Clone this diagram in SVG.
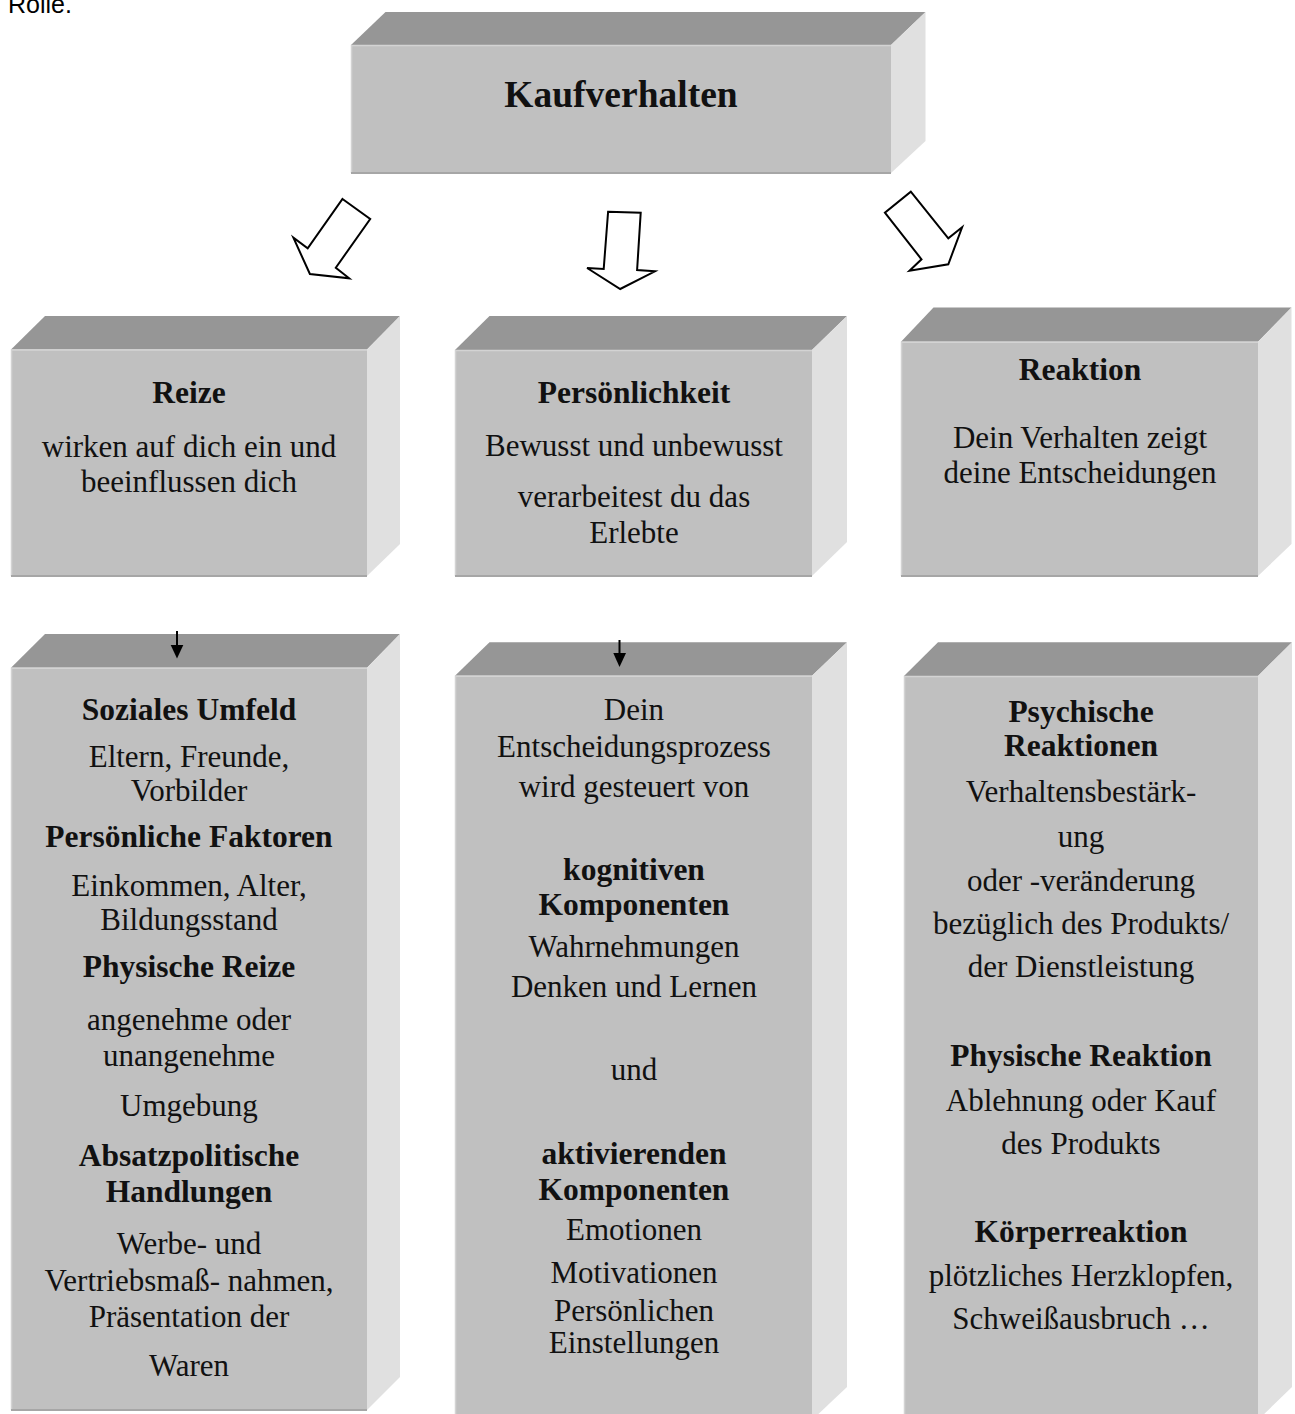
<svg xmlns="http://www.w3.org/2000/svg" width="1295" height="1414" viewBox="0 0 1295 1414">
<style>
  .top{fill:#969696}
  .front{fill:#c0c0c0}
  .side{fill:#e0e0e0}
  .hl{stroke:#d3d3d3;stroke-width:1.5;fill:none}
  .sh{stroke:#a6a6a6;stroke-width:2;fill:none}
  text{font-family:"Liberation Serif","Times New Roman",serif;fill:#111;text-anchor:middle}
  .t{font-size:31px}
  .b{font-size:31.5px;font-weight:bold}
  .h{font-size:37.5px;font-weight:bold}
  .open{fill:#fff;stroke:#000;stroke-width:2;stroke-linejoin:miter}
  .small{stroke:#000;stroke-width:2}
</style>
<rect width="1295" height="1414" fill="#fff"/>
<text x="8" y="13" style="font-family:'Liberation Sans',Arial,sans-serif;font-size:25px;text-anchor:start;fill:#000">Rolle.</text>

<g id="kaufverhalten">
  <polygon class="top" points="351,45 385.5,12 925.5,12 891,45"/>
  <polygon class="side" points="891,45 925.5,12 925.5,141 891,173"/>
  <rect class="front" x="351" y="45" width="540" height="128"/>
  <polyline class="hl" points="351.5,173 351.5,45.5 891,45.5"/>
  <line class="sh" x1="351" y1="173" x2="891" y2="173"/>
  <text class="h" x="621" y="107">Kaufverhalten</text>
</g>

<g id="reize">
  <polygon class="top" points="11,349.5 45,316 400,316 367,349.5"/>
  <polygon class="side" points="367,349.5 400,316 400,544 367,576"/>
  <rect class="front" x="11" y="349.5" width="356" height="226.5"/>
  <polyline class="hl" points="11.5,576 11.5,350 367,350"/>
  <line class="sh" x1="11" y1="576" x2="367" y2="576"/>
  <text class="b" x="189" y="403">Reize</text>
  <text class="t" x="189" y="457">wirken auf dich ein und</text>
  <text class="t" x="189" y="492">beeinflussen dich</text>
</g>

<g id="persoenlichkeit">
  <polygon class="top" points="455,350 489.5,316 847,316 812,350"/>
  <polygon class="side" points="812,350 847,316 847,542 812,576"/>
  <rect class="front" x="455" y="350" width="357" height="226"/>
  <polyline class="hl" points="455.5,576 455.5,350.5 812,350.5"/>
  <line class="sh" x1="455" y1="576" x2="812" y2="576"/>
  <text class="b" x="634" y="403">Persönlichkeit</text>
  <text class="t" x="634" y="456">Bewusst und unbewusst</text>
  <text class="t" x="634" y="507">verarbeitest du das</text>
  <text class="t" x="634" y="543">Erlebte</text>
</g>

<g id="reaktion">
  <polygon class="top" points="901,341.7 933.5,307.5 1291.5,307.5 1258,341.7"/>
  <polygon class="side" points="1258,341.7 1291.5,307.5 1291.5,544 1258,576"/>
  <rect class="front" x="901" y="341.7" width="357" height="234.3"/>
  <polyline class="hl" points="901.5,576 901.5,342.2 1258,342.2"/>
  <line class="sh" x1="901" y1="576" x2="1258" y2="576"/>
  <text class="b" x="1080" y="380">Reaktion</text>
  <text class="t" x="1080" y="448">Dein Verhalten zeigt</text>
  <text class="t" x="1080" y="483">deine Entscheidungen</text>
</g>

<g id="reize-details">
  <polygon class="top" points="11,667.7 45,634 400,634 367,667.7"/>
  <polygon class="side" points="367,667.7 400,634 400,1377 367,1410"/>
  <rect class="front" x="11" y="667.7" width="356" height="742.3"/>
  <polyline class="hl" points="11.5,1410 11.5,668.2 367,668.2"/>
  <line class="sh" x1="11" y1="1410" x2="367" y2="1410"/>
  <text class="b" x="189" y="720">Soziales Umfeld</text>
  <text class="t" x="189" y="767">Eltern, Freunde,</text>
  <text class="t" x="189" y="801">Vorbilder</text>
  <text class="b" x="189" y="847">Persönliche Faktoren</text>
  <text class="t" x="189" y="896">Einkommen, Alter,</text>
  <text class="t" x="189" y="930">Bildungsstand</text>
  <text class="b" x="189" y="977">Physische Reize</text>
  <text class="t" x="189" y="1030">angenehme oder</text>
  <text class="t" x="189" y="1066">unangenehme</text>
  <text class="t" x="189" y="1116">Umgebung</text>
  <text class="b" x="189" y="1166">Absatzpolitische</text>
  <text class="b" x="189" y="1202">Handlungen</text>
  <text class="t" x="189" y="1254">Werbe- und</text>
  <text class="t" x="189" y="1291">Vertriebsmaß- nahmen,</text>
  <text class="t" x="189" y="1327">Präsentation der</text>
  <text class="t" x="189" y="1376">Waren</text>
</g>

<g id="entscheidungsprozess">
  <polygon class="top" points="455,675.7 489.5,642.3 847,642.3 812,675.7"/>
  <polygon class="side" points="812,675.7 847,642.3 847,1387 812,1420"/>
  <rect class="front" x="455" y="675.7" width="357" height="744.3"/>
  <polyline class="hl" points="455.5,1420 455.5,676.2 812,676.2"/>
  <text class="t" x="634" y="720">Dein</text>
  <text class="t" x="634" y="757">Entscheidungsprozess</text>
  <text class="t" x="634" y="797">wird gesteuert von</text>
  <text class="b" x="634" y="880">kognitiven</text>
  <text class="b" x="634" y="915">Komponenten</text>
  <text class="t" x="634" y="957">Wahrnehmungen</text>
  <text class="t" x="634" y="997">Denken und Lernen</text>
  <text class="t" x="634" y="1080">und</text>
  <text class="b" x="634" y="1164">aktivierenden</text>
  <text class="b" x="634" y="1200">Komponenten</text>
  <text class="t" x="634" y="1240">Emotionen</text>
  <text class="t" x="634" y="1283">Motivationen</text>
  <text class="t" x="634" y="1321">Persönlichen</text>
  <text class="t" x="634" y="1353">Einstellungen</text>
</g>

<g id="reaktionen-details">
  <polygon class="top" points="904,676 938,642.3 1292,642.3 1258,676"/>
  <polygon class="side" points="1258,676 1292,642.3 1292,1387 1258,1420"/>
  <rect class="front" x="904" y="676" width="354" height="744"/>
  <polyline class="hl" points="904.5,1420 904.5,676.5 1258,676.5"/>
  <text class="b" x="1081" y="722">Psychische</text>
  <text class="b" x="1081" y="756">Reaktionen</text>
  <text class="t" x="1081" y="802">Verhaltensbestärk-</text>
  <text class="t" x="1081" y="847">ung</text>
  <text class="t" x="1081" y="891">oder -veränderung</text>
  <text class="t" x="1081" y="934">bezüglich des Produkts/</text>
  <text class="t" x="1081" y="977">der Dienstleistung</text>
  <text class="b" x="1081" y="1066">Physische Reaktion</text>
  <text class="t" x="1081" y="1111">Ablehnung oder Kauf</text>
  <text class="t" x="1081" y="1154">des Produkts</text>
  <text class="b" x="1081" y="1242">Körperreaktion</text>
  <text class="t" x="1081" y="1286">plötzliches Herzklopfen,</text>
  <text class="t" x="1081" y="1329">Schweißausbruch …</text>
</g>

<g id="connectors">
  <polygon class="open" points="342.5,199 370.2,219 335.8,267.7 349.2,278.3 309.9,274 293.4,237.7 307.7,248.3"/>
  <polygon class="open" points="608.1,211.7 640.7,212.7 637.1,270 655,271.3 620.2,289 587.1,268 603.7,269"/>
  <polygon class="open" points="910.8,191.7 948.3,238.3 962.1,227.3 948.3,264.3 909.5,270.7 921.5,259.3 884.9,212.7"/>
  <line class="small" x1="177" y1="631" x2="177" y2="646"/>
  <polygon points="170.7,645 183.3,645 177,658.5" fill="#000"/>
  <line class="small" x1="619.5" y1="640" x2="619.5" y2="654"/>
  <polygon points="613.3,653 626,653 619.5,667" fill="#000"/>
</g>
</svg>
